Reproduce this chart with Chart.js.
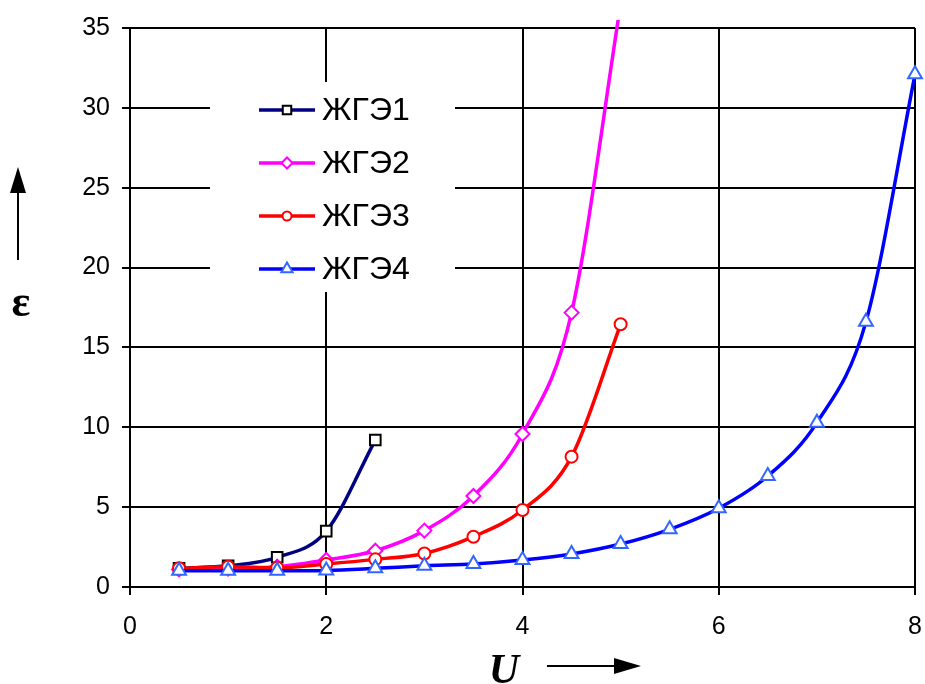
<!DOCTYPE html>
<html lang="ru">
<head>
    <meta charset="UTF-8">
    <title>ЖГЭ</title>
    <script src="https://cdn.jsdelivr.net/npm/chart.js"></script>
    <style>
        body { margin: 0; background: #fff; }
        #wrap { width: 925px; height: 684px; position: relative; }
    </style>
</head>
<body>
    <div id="wrap"><canvas id="chart"></canvas></div>
    <script>
        // U values (x) and epsilon for each series
        const uValues = [0.5, 1, 1.5, 2, 2.5, 3, 3.5, 4, 4.5, 5, 5.5, 6, 6.5, 7, 7.5, 8];
        const eps1 = [1.17, 1.33, 1.86, 3.5, 9.2];
        const eps2 = [1.1, 1.15, 1.27, 1.69, 2.27, 3.53, 5.7, 9.58, 17.18, 36.5];
        const eps3 = [1.17, 1.27, 1.2, 1.44, 1.73, 2.1, 3.15, 4.82, 8.16, 16.45];
        const eps4 = [1.02, 1.02, 1.02, 1.04, 1.17, 1.33, 1.44, 1.69, 2.07, 2.69, 3.61, 4.93, 6.95, 10.29, 16.6, 32.1];
        const seriesNames = ['ЖГЭ1', 'ЖГЭ2', 'ЖГЭ3', 'ЖГЭ4'];
        const xTicks = [0, 2, 4, 6, 8];
        const yTicks = [0, 5, 10, 15, 20, 25, 30, 35];

        function toPoints(ys) {
            return ys.map((y, i) => ({ x: uValues[i], y: y }));
        }

        function makeSet(i, ys, line, marker, style, radius, order, clip) {
            return {
                label: seriesNames[i],
                data: toPoints(ys),
                borderColor: line,
                borderWidth: 3.5,
                cubicInterpolationMode: 'monotone',
                pointStyle: style,
                pointRadius: radius,
                pointBorderColor: marker,
                pointBackgroundColor: '#fff',
                pointBorderWidth: 2,
                order: order,
                clip: clip
            };
        }

        const box = { left: 10, top: 10, right: 10, bottom: 10 };
        const datasets = [
            makeSet(0, eps1, '#000080', '#000000', 'rect', 7.5, 3, box),
            makeSet(1, eps2, '#ff00ff', '#ff00ff', 'rectRot', 7, 2, { left: 10, top: 8, right: 10, bottom: 10 }),
            makeSet(2, eps3, '#ff0000', '#ff0000', 'circle', 6, 1, box),
            makeSet(3, eps4, '#0000ff', '#3366ff', 'triangle', 8, 0, box)
        ];

        // legend box inside the plot + axis titles with arrows
        const decor = {
            id: 'decor',
            beforeDatasetsDraw(chart) {
                const ctx = chart.ctx;
                ctx.save();
                ctx.fillStyle = '#fff';
                ctx.fillRect(210, 82, 245, 210);
                const rows = [110, 163, 216, 269];
                chart.data.datasets.forEach((ds, i) => {
                    const y = rows[i];
                    ctx.strokeStyle = ds.borderColor;
                    ctx.lineWidth = 3.5;
                    ctx.beginPath();
                    ctx.moveTo(259, y);
                    ctx.lineTo(315, y);
                    ctx.stroke();
                    ctx.fillStyle = '#fff';
                    ctx.strokeStyle = ds.pointBorderColor;
                    ctx.lineWidth = 2;
                    Chart.helpers.drawPoint(ctx, { pointStyle: ds.pointStyle, radius: ds.pointRadius - 1.5, rotation: 0, borderWidth: 2 }, 287, y);
                    ctx.fillStyle = '#000';
                    ctx.font = '32px "Liberation Sans", Arial, sans-serif';
                    ctx.textBaseline = 'middle';
                    ctx.textAlign = 'left';
                    ctx.fillText(ds.label, 322, y + 1);
                });
                ctx.restore();
            },
            afterDraw(chart) {
                const ctx = chart.ctx;
                ctx.save();
                ctx.fillStyle = '#000';
                ctx.strokeStyle = '#000';
                ctx.lineWidth = 2;
                // y title
                ctx.font = 'bold 44px "Liberation Serif", "Times New Roman", serif';
                ctx.textAlign = 'center';
                ctx.textBaseline = 'alphabetic';
                ctx.fillText('ε', 21, 316);
                ctx.beginPath();
                ctx.moveTo(18, 260);
                ctx.lineTo(18, 190);
                ctx.stroke();
                ctx.beginPath();
                ctx.moveTo(18, 167);
                ctx.lineTo(10, 193);
                ctx.lineTo(26, 193);
                ctx.closePath();
                ctx.fill();
                // x title
                ctx.font = 'bold italic 42px "Liberation Serif", "Times New Roman", serif';
                ctx.fillText('U', 504, 683);
                ctx.beginPath();
                ctx.moveTo(547, 666);
                ctx.lineTo(618, 666);
                ctx.stroke();
                ctx.beginPath();
                ctx.moveTo(641, 666);
                ctx.lineTo(614, 658);
                ctx.lineTo(614, 674);
                ctx.closePath();
                ctx.fill();
                ctx.restore();
            }
        };

        const tickFont = { family: '"Liberation Sans", Arial, sans-serif', size: 25 };

        new Chart(document.getElementById('chart'), {
            type: 'line',
            data: { datasets },
            options: {
                responsive: true,
                maintainAspectRatio: false,
                animation: false,
                layout: { padding: { top: 28, right: 5, left: 0, bottom: 0 } },
                plugins: { legend: { display: false }, tooltip: { enabled: false } },
                scales: {
                    x: {
                        type: 'linear',
                        min: 0,
                        max: 8,
                        afterFit: s => { s.height = 97; s.paddingRight = 0; s.paddingLeft = 0; },
                        afterBuildTicks: s => { s.ticks = xTicks.map(v => ({ value: v })); },
                        ticks: { color: '#000', font: tickFont, padding: 17, maxRotation: 0 },
                        grid: { color: '#000', lineWidth: 2, tickLength: 8, tickColor: '#000' },
                        border: { color: '#000', width: 2 }
                    },
                    y: {
                        min: 0,
                        max: 35,
                        afterFit: s => { s.width = 130; },
                        afterBuildTicks: s => { s.ticks = yTicks.map(v => ({ value: v })); },
                        ticks: { color: '#000', font: tickFont, padding: 12 },
                        grid: { color: '#000', lineWidth: 2, tickLength: 8, tickColor: '#000' },
                        border: { color: '#000', width: 2 }
                    }
                }
            },
            plugins: [decor]
        });
    </script>
</body>
</html>
